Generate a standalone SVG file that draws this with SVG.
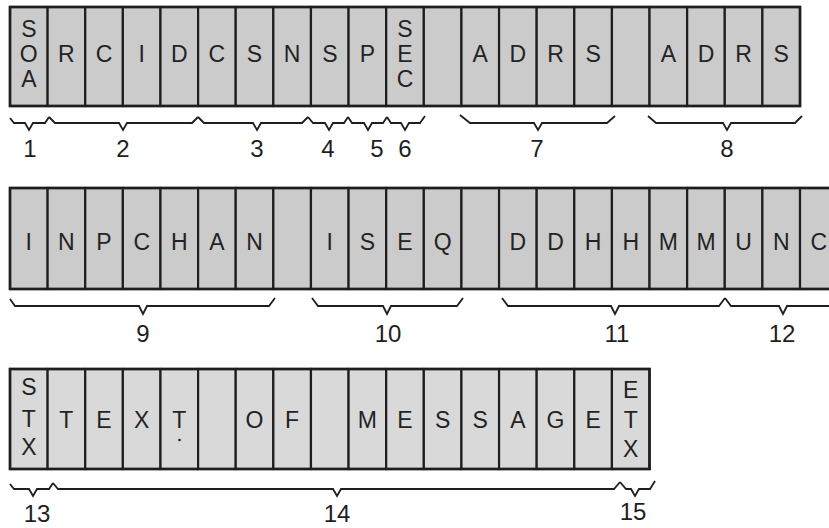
<svg xmlns="http://www.w3.org/2000/svg" width="829" height="528" viewBox="0 0 829 528">
<style>
.c{fill:#cbcbcb;stroke:#1e1e1e;stroke-width:2.2}
.c3{fill:#d9d9d9;stroke:#1e1e1e;stroke-width:2.2}
.frame{fill:none;stroke:#1e1e1e;stroke-width:2.6}
.t{font-family:"Liberation Sans",Arial,sans-serif;font-size:23px;text-anchor:middle;fill:#232323}
.n{font-family:"Liberation Sans",Arial,sans-serif;font-size:24px;text-anchor:middle;fill:#1e1e1e}
.b{fill:none;stroke:#1e1e1e;stroke-width:1.8;stroke-linejoin:miter}
</style>
<rect width="829" height="528" fill="#ffffff"/>
<!-- Row 1 -->
<g id="row1">
<g id="r1c0"><rect class="c" x="10" y="7" width="37.62" height="99"/><text class="t"><tspan x="28.8" y="37">S</tspan><tspan x="28.8" y="62">O</tspan><tspan x="28.8" y="87">A</tspan></text></g>
<g id="r1c1"><rect class="c" x="47.62" y="7" width="37.62" height="99"/><text class="t" x="66.4" y="62">R</text></g>
<g id="r1c2"><rect class="c" x="85.24" y="7" width="37.62" height="99"/><text class="t" x="104.0" y="62">C</text></g>
<g id="r1c3"><rect class="c" x="122.86" y="7" width="37.62" height="99"/><text class="t" x="141.7" y="62">I</text></g>
<g id="r1c4"><rect class="c" x="160.48" y="7" width="37.62" height="99"/><text class="t" x="179.3" y="62">D</text></g>
<g id="r1c5"><rect class="c" x="198.1" y="7" width="37.62" height="99"/><text class="t" x="216.9" y="62">C</text></g>
<g id="r1c6"><rect class="c" x="235.72" y="7" width="37.62" height="99"/><text class="t" x="254.5" y="62">S</text></g>
<g id="r1c7"><rect class="c" x="273.34" y="7" width="37.62" height="99"/><text class="t" x="292.1" y="62">N</text></g>
<g id="r1c8"><rect class="c" x="310.96" y="7" width="37.62" height="99"/><text class="t" x="329.8" y="62">S</text></g>
<g id="r1c9"><rect class="c" x="348.58" y="7" width="37.62" height="99"/><text class="t" x="367.4" y="62">P</text></g>
<g id="r1c10"><rect class="c" x="386.2" y="7" width="37.62" height="99"/><text class="t"><tspan x="405.0" y="37">S</tspan><tspan x="405.0" y="62">E</tspan><tspan x="405.0" y="87">C</tspan></text></g>
<g id="r1c11"><rect class="c" x="423.82" y="7" width="37.62" height="99"/></g>
<g id="r1c12"><rect class="c" x="461.44" y="7" width="37.62" height="99"/><text class="t" x="480.2" y="62">A</text></g>
<g id="r1c13"><rect class="c" x="499.06" y="7" width="37.62" height="99"/><text class="t" x="517.9" y="62">D</text></g>
<g id="r1c14"><rect class="c" x="536.68" y="7" width="37.62" height="99"/><text class="t" x="555.5" y="62">R</text></g>
<g id="r1c15"><rect class="c" x="574.3" y="7" width="37.62" height="99"/><text class="t" x="593.1" y="62">S</text></g>
<g id="r1c16"><rect class="c" x="611.92" y="7" width="37.62" height="99"/></g>
<g id="r1c17"><rect class="c" x="649.54" y="7" width="37.62" height="99"/><text class="t" x="668.3" y="62">A</text></g>
<g id="r1c18"><rect class="c" x="687.16" y="7" width="37.62" height="99"/><text class="t" x="706.0" y="62">D</text></g>
<g id="r1c19"><rect class="c" x="724.78" y="7" width="37.62" height="99"/><text class="t" x="743.6" y="62">R</text></g>
<g id="r1c20"><rect class="c" x="762.4" y="7" width="37.62" height="99"/><text class="t" x="781.2" y="62">S</text></g>
<rect class="frame" x="10" y="7" width="790" height="99"/>
</g>
<!-- Row 2 -->
<g id="row2">
<g id="r2c0"><rect class="c" x="10" y="188" width="37.62" height="101"/><text class="t" x="28.8" y="250">I</text></g>
<g id="r2c1"><rect class="c" x="47.62" y="188" width="37.62" height="101"/><text class="t" x="66.4" y="250">N</text></g>
<g id="r2c2"><rect class="c" x="85.24" y="188" width="37.62" height="101"/><text class="t" x="104.0" y="250">P</text></g>
<g id="r2c3"><rect class="c" x="122.86" y="188" width="37.62" height="101"/><text class="t" x="141.7" y="250">C</text></g>
<g id="r2c4"><rect class="c" x="160.48" y="188" width="37.62" height="101"/><text class="t" x="179.3" y="250">H</text></g>
<g id="r2c5"><rect class="c" x="198.1" y="188" width="37.62" height="101"/><text class="t" x="216.9" y="250">A</text></g>
<g id="r2c6"><rect class="c" x="235.72" y="188" width="37.62" height="101"/><text class="t" x="254.5" y="250">N</text></g>
<g id="r2c7"><rect class="c" x="273.34" y="188" width="37.62" height="101"/></g>
<g id="r2c8"><rect class="c" x="310.96" y="188" width="37.62" height="101"/><text class="t" x="329.8" y="250">I</text></g>
<g id="r2c9"><rect class="c" x="348.58" y="188" width="37.62" height="101"/><text class="t" x="367.4" y="250">S</text></g>
<g id="r2c10"><rect class="c" x="386.2" y="188" width="37.62" height="101"/><text class="t" x="405.0" y="250">E</text></g>
<g id="r2c11"><rect class="c" x="423.82" y="188" width="37.62" height="101"/><text class="t" x="442.6" y="250">Q</text></g>
<g id="r2c12"><rect class="c" x="461.44" y="188" width="37.62" height="101"/></g>
<g id="r2c13"><rect class="c" x="499.06" y="188" width="37.62" height="101"/><text class="t" x="517.9" y="250">D</text></g>
<g id="r2c14"><rect class="c" x="536.68" y="188" width="37.62" height="101"/><text class="t" x="555.5" y="250">D</text></g>
<g id="r2c15"><rect class="c" x="574.3" y="188" width="37.62" height="101"/><text class="t" x="593.1" y="250">H</text></g>
<g id="r2c16"><rect class="c" x="611.92" y="188" width="37.62" height="101"/><text class="t" x="630.7" y="250">H</text></g>
<g id="r2c17"><rect class="c" x="649.54" y="188" width="37.62" height="101"/><text class="t" x="668.3" y="250">M</text></g>
<g id="r2c18"><rect class="c" x="687.16" y="188" width="37.62" height="101"/><text class="t" x="706.0" y="250">M</text></g>
<g id="r2c19"><rect class="c" x="724.78" y="188" width="37.62" height="101"/><text class="t" x="743.6" y="250">U</text></g>
<g id="r2c20"><rect class="c" x="762.4" y="188" width="37.62" height="101"/><text class="t" x="781.2" y="250">N</text></g>
<g id="r2c21"><rect class="c" x="800.02" y="188" width="37.62" height="101"/><text class="t" x="818.8" y="250">C</text></g>
<rect class="frame" x="10" y="188" width="840" height="101"/>
</g>
<!-- Row 3 -->
<g id="row3">
<g id="r3c0"><rect class="c3" x="10" y="369" width="37.62" height="100"/><text class="t"><tspan x="28.8" y="395">S</tspan><tspan x="28.8" y="427">T</tspan><tspan x="28.8" y="455">X</tspan></text></g>
<g id="r3c1"><rect class="c3" x="47.62" y="369" width="37.62" height="100"/><text class="t" x="66.4" y="428">T</text></g>
<g id="r3c2"><rect class="c3" x="85.24" y="369" width="37.62" height="100"/><text class="t" x="104.0" y="428">E</text></g>
<g id="r3c3"><rect class="c3" x="122.86" y="369" width="37.62" height="100"/><text class="t" x="141.7" y="428">X</text></g>
<g id="r3c4"><rect class="c3" x="160.48" y="369" width="37.62" height="100"/><text class="t" x="179.3" y="428">T</text><circle cx="179.5" cy="440" r="1.3" fill="#222"/></g>
<g id="r3c5"><rect class="c3" x="198.1" y="369" width="37.62" height="100"/></g>
<g id="r3c6"><rect class="c3" x="235.72" y="369" width="37.62" height="100"/><text class="t" x="254.5" y="428">O</text></g>
<g id="r3c7"><rect class="c3" x="273.34" y="369" width="37.62" height="100"/><text class="t" x="292.1" y="428">F</text></g>
<g id="r3c8"><rect class="c3" x="310.96" y="369" width="37.62" height="100"/></g>
<g id="r3c9"><rect class="c3" x="348.58" y="369" width="37.62" height="100"/><text class="t" x="367.4" y="428">M</text></g>
<g id="r3c10"><rect class="c3" x="386.2" y="369" width="37.62" height="100"/><text class="t" x="405.0" y="428">E</text></g>
<g id="r3c11"><rect class="c3" x="423.82" y="369" width="37.62" height="100"/><text class="t" x="442.6" y="428">S</text></g>
<g id="r3c12"><rect class="c3" x="461.44" y="369" width="37.62" height="100"/><text class="t" x="480.2" y="428">S</text></g>
<g id="r3c13"><rect class="c3" x="499.06" y="369" width="37.62" height="100"/><text class="t" x="517.9" y="428">A</text></g>
<g id="r3c14"><rect class="c3" x="536.68" y="369" width="37.62" height="100"/><text class="t" x="555.5" y="428">G</text></g>
<g id="r3c15"><rect class="c3" x="574.3" y="369" width="37.62" height="100"/><text class="t" x="593.1" y="428">E</text></g>
<g id="r3c16"><rect class="c3" x="611.92" y="369" width="37.62" height="100"/><text class="t"><tspan x="630.7" y="398">E</tspan><tspan x="630.7" y="428">T</tspan><tspan x="630.7" y="457">X</tspan></text></g>
<rect class="frame" x="10" y="369" width="639.5" height="100"/>
</g>
<!-- Braces (connectors) -->
<g id="braces">
<path class="b" d="M10,118 L14,123 L25,123 L29,130 L33,123 L45,123 L49,117"/>
<path class="b" d="M49,117 L55,123 L119,123 L123,130 L127,123 L192,123 L198,117"/>
<path class="b" d="M198,117 L204,123 L253,123 L257,130 L261,123 L302,123 L308,117"/>
<path class="b" d="M308,117 L313,123 L325,123 L329,130 L333,123 L344,123 L348,117"/>
<path class="b" d="M348,117 L352,123 L364,123 L368,130 L372,123 L383,123 L387,117"/>
<path class="b" d="M387,117 L391,123 L401,123 L405,130 L409,123 L420,123 L425,116"/>
<path class="b" d="M460,115 L470,123 L534,123 L538,130 L542,123 L607,123 L615,116"/>
<path class="b" d="M648,116 L656,123 L723,123 L727,130 L731,123 L795,123 L802,116"/>
<path class="b" d="M10,299 L15,306 L139,306 L143,314 L147,306 L269,306 L275,298"/>
<path class="b" d="M312,298 L318,306 L383,306 L387,314 L391,306 L457,306 L463,298"/>
<path class="b" d="M502,298 L508,306 L611,306 L615,314 L619,306 L719,306 L725,298"/>
<path class="b" d="M725,298 L731,306 L779,306 L783,314 L787,306 L830,306"/>
<path class="b" d="M10,484 L14,489 L29,489 L33,496 L37,489 L49,489 L53,483"/>
<path class="b" d="M53,483 L58,489 L333,489 L337,496 L341,489 L614,489 L620,482"/>
<path class="b" d="M620,482 L626,489 L631,489 L635,496 L639,489 L650,489 L655,481"/>
</g>
<g id="labels">
<text class="n" x="30" y="157">1</text>
<text class="n" x="123" y="157">2</text>
<text class="n" x="257" y="157">3</text>
<text class="n" x="328" y="157">4</text>
<text class="n" x="377" y="157">5</text>
<text class="n" x="405" y="157">6</text>
<text class="n" x="537" y="157">7</text>
<text class="n" x="727" y="157">8</text>
<text class="n" x="143" y="342">9</text>
<text class="n" x="388" y="342">10</text>
<text class="n" x="617" y="342">11</text>
<text class="n" x="782" y="342">12</text>
<text class="n" x="37" y="522">13</text>
<text class="n" x="337" y="522">14</text>
<text class="n" x="633" y="520">15</text>
</g>
</svg>
